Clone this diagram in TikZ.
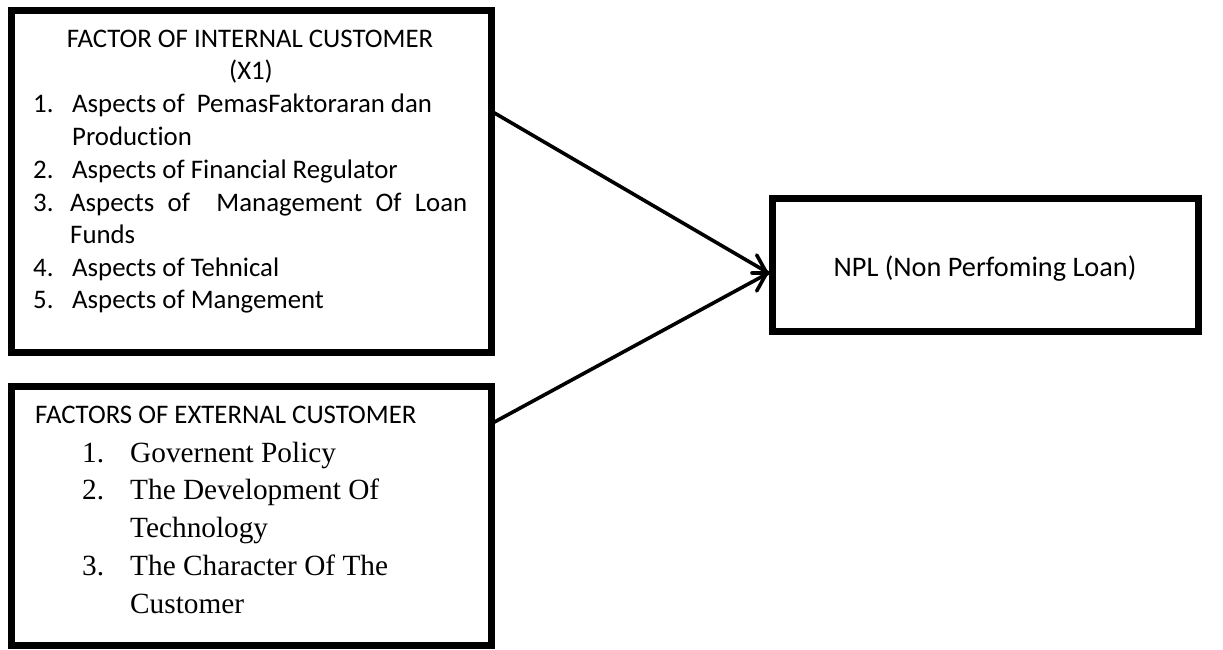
\documentclass[tikz,border=0pt]{standalone}
\usepackage{fontspec}
\setmainfont{Carlito}
\newfontfamily\calfont[Ligatures=CommonOff]{Carlito}
\newfontfamily\tnrfont{Liberation Serif}
\usetikzlibrary{arrows.meta}
\begin{document}
\begin{tikzpicture}[x=1pt,y=-1pt,
  box/.style={draw=black,line width=7pt,rectangle,inner sep=0pt,fill=none},
  ctxt/.style={inner sep=0pt,anchor=base west,font=\calfont\fontsize{26.8}{32}\selectfont},
  ctitle/.style={inner sep=0pt,anchor=base,font=\calfont\fontsize{26.8}{32}\selectfont},
  ttxt/.style={inner sep=0pt,anchor=base west,font=\tnrfont\fontsize{29.3}{35}\selectfont},
  conn/.style={draw=black,line width=3.6pt,line cap=round},
]
\useasboundingbox[fill=white] (0,0) rectangle (1223,650);
% boxes
\node[box,minimum width=480pt,minimum height=341pt] (internal) at (251,181.5) {};
\node[box,minimum width=480pt,minimum height=259pt] (external) at (251,515.5) {};
\node[box,minimum width=426pt,minimum height=133pt] (npl) at (985,264.5) {};
% internal text
\node[ctitle] (t1) at (250,48) {FACTOR OF INTERNAL CUSTOMER};
\node[ctitle] (t2) at (251,80) {(X1)};
\node[ctxt] (n1) at (33,113) {1.};
\node[ctxt] (i1) at (72,113) {Aspects of\ \ PemasFaktoraran dan};
\node[ctxt] (i1b) at (72,146) {Production};
\node[ctxt] (n2) at (33,178) {2.};
\node[ctxt] (i2) at (72,178) {Aspects of Financial Regulator};
\node[ctxt] (n3) at (33,211) {3.};
\node[ctxt] (i3) at (70,211) {\makebox[397pt][s]{Aspects of \ Management Of Loan}};
\node[ctxt] (i3b) at (70,243) {Funds};
\node[ctxt] (n4) at (33,276) {4.};
\node[ctxt] (i4) at (72,276) {Aspects of Tehnical};
\node[ctxt] (n5) at (33,308) {5.};
\node[ctxt] (i5) at (72,308) {Aspects of Mangement};
% external text
\node[ctxt] (et) at (35,423) {FACTORS OF EXTERNAL CUSTOMER};
\node[ttxt] (m1) at (82,462) {1.};
\node[ttxt] (e1) at (130,462) {Governent Policy};
\node[ttxt] (m2) at (82,499) {2.};
\node[ttxt] (e2) at (130,499) {The Development Of};
\node[ttxt] (e2b) at (130,537) {Technology};
\node[ttxt] (m3) at (82,575) {3.};
\node[ttxt] (e3) at (130,575) {The Character Of The};
\node[ttxt] (e3b) at (130,613) {Customer};
% npl text
\node[ctitle,font=\calfont\fontsize{28.3}{34}\selectfont] (nt) at (985,276) {NPL (Non Perfoming Loan)};
% connectors
\coordinate (s1) at (internal.east |- 0,113);
\coordinate (s2) at (external.east |- 0,422);
\coordinate (tip) at (npl.west |- 0,273);
\coordinate (stub) at (752,273);
\draw[conn] (s1) -- (tip);
\draw[conn] (s2) -- (tip);
\draw[conn,-{Straight Barb[length=10pt,width=36pt,line width=3.6pt,round]}] (stub) -- (tip);
\end{tikzpicture}
\end{document}
